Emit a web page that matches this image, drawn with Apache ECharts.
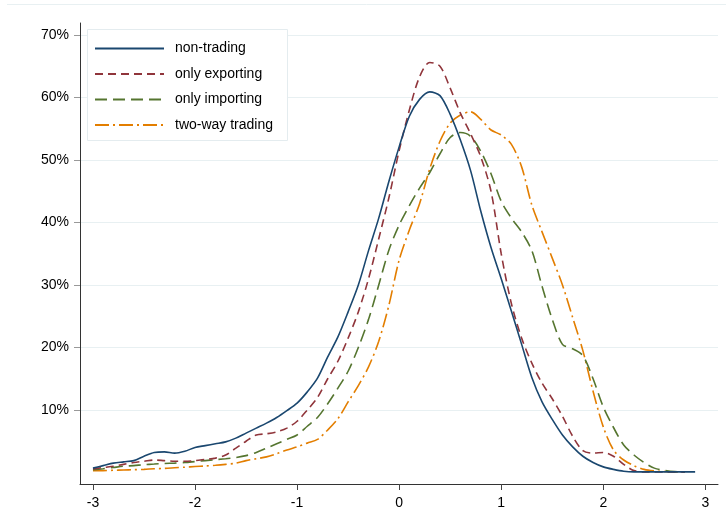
<!DOCTYPE html>
<html>
<head>
<meta charset="utf-8">
<script src="https://cdn.jsdelivr.net/npm/echarts@6/dist/echarts.min.js"></script>
<style>html,body{margin:0;padding:0;background:#fff}#c{width:726px;height:529px}</style>
</head>
<body>
<div id="c"></div>
<script>
var xs = [-3.0,-2.9,-2.8,-2.7,-2.6,-2.5,-2.4,-2.3,-2.2,-2.1,-2.0,-1.9,-1.8,-1.7,-1.6,-1.5,-1.4,-1.3,-1.2,-1.1,-1.0,-0.9,-0.8,-0.7,-0.6,-0.5,-0.4,-0.3,-0.2,-0.1,0.0,0.1,0.2,0.3,0.4,0.5,0.6,0.7,0.8,0.9,1.0,1.1,1.2,1.3,1.4,1.5,1.6,1.7,1.8,1.9,2.0,2.1,2.2,2.3,2.4,2.5,2.6,2.7,2.8,2.9];
var nonTrading = [0.7,1.1,1.5,1.7,1.9,2.6,3.2,3.3,3.1,3.4,4.0,4.3,4.6,4.9,5.5,6.3,7.1,7.9,8.8,9.9,11.1,12.9,15.1,18.5,21.7,25.7,30.0,35.5,40.7,46.6,52.1,57.0,59.7,60.9,60.3,57.3,53.2,48.3,41.8,36.0,31.0,25.8,20.5,15.2,11.3,8.5,6.0,4.1,2.6,1.6,0.9,0.5,0.2,0.1,0.1,0.1,0.1,0.1,0.1,0.1];
var onlyExporting = [0.55,0.8,1.0,1.3,1.6,1.8,2.0,1.9,1.8,1.8,1.9,2.1,2.3,2.8,3.9,5.0,6.0,6.2,6.5,7.1,8.2,10.0,12.0,15.0,17.8,21.5,25.7,31.0,37.4,44.0,51.5,58.0,63.3,65.6,65.0,61.5,57.5,54.2,50.5,45.0,35.0,27.0,21.5,17.5,14.3,11.8,9.0,5.8,3.5,3.1,3.2,2.6,1.3,0.3,0.1,0.1,0.1,0.1,0.1,null];
var onlyImporting = [0.45,0.6,0.8,1.0,1.1,1.25,1.35,1.45,1.5,1.6,1.75,1.9,2.05,2.2,2.4,2.7,3.2,3.9,4.6,5.3,6.0,7.4,8.8,11.0,13.5,16.2,20.0,24.5,30.0,35.6,39.6,42.7,45.5,48.0,51.0,53.6,54.4,53.8,51.4,47.8,43.4,40.7,38.5,35.5,29.8,24.5,20.5,19.8,18.7,15.0,10.5,7.2,4.4,2.8,1.6,0.7,0.35,0.15,0.1,null];
var twoWay = [0.3,0.3,0.35,0.4,0.45,0.5,0.6,0.65,0.75,0.85,0.95,1.05,1.15,1.3,1.5,1.9,2.2,2.5,3.0,3.6,4.1,4.7,5.3,6.8,8.6,11.3,13.9,16.9,21.0,26.8,34.0,38.8,43.0,48.6,53.0,55.9,57.2,57.7,56.5,54.8,54.0,52.5,48.9,42.8,38.5,34.3,30.0,24.8,19.5,13.0,7.3,3.6,2.0,1.1,0.5,0.25,0.15,0.1,0.1,null];
var xTicks = [-3,-2,-1,0,1,2,3];
var yTicks = [10,20,30,40,50,60,70];
var names = ['non-trading','only exporting','only importing','two-way trading'];

function pairs(arr){
  var out=[];
  for(var i=0;i<xs.length;i++){ if(arr[i]!==null) out.push([xs[i],arr[i]]); }
  return out;
}
var FONT = '"Liberation Sans", Arial, sans-serif';
var chart = echarts.init(document.getElementById('c'), null, {renderer:'canvas'});
chart.setOption({
  animation:false,
  backgroundColor:'#ffffff',
  grid:{left:80,right:8,top:23,bottom:45,containLabel:false},
  xAxis:{
    type:'value', min:-3.127, max:3.124,
    axisLine:{show:true,onZero:false,lineStyle:{color:'#333',width:1}},
    axisTick:{show:true,length:6,lineStyle:{color:'#444'},customValues:xTicks},
    axisLabel:{customValues:xTicks,margin:12,color:'#000',fontSize:14,fontFamily:FONT,formatter:function(v){return String(v);}},
    splitLine:{show:false}
  },
  yAxis:{
    type:'value', min:-1.84, max:71.92,
    axisLine:{show:true,onZero:false,lineStyle:{color:'#333',width:1}},
    axisTick:{show:true,length:6,lineStyle:{color:'#999'},customValues:yTicks},
    axisLabel:{customValues:yTicks,margin:11,color:'#000',fontSize:14,fontFamily:FONT,formatter:function(v){return Math.round(v)+'%';}},
    splitLine:{show:true,lineStyle:{color:'#e8f0f2',width:1}}
  },
  graphic:[
    {type:'line',z:1,shape:{x1:7,y1:4.5,x2:726,y2:4.5},style:{stroke:'#e8f0f2',lineWidth:1}},
    {type:'rect',z:10,shape:{x:87.5,y:29.5,width:200,height:111},style:{fill:'#ffffff',stroke:'#e4ecef',lineWidth:1}}
  ],
  legend:{
    z:20, orient:'vertical', left:94, top:41.5, padding:0, itemGap:11.5,
    itemWidth:69, itemHeight:14, selectedMode:false,
    itemStyle:{opacity:0},
    textStyle:{fontSize:14,fontFamily:FONT,color:'#000',padding:[0,0,0,6],lineHeight:14},
    data:names
  },
  series:[
    {name:names[0],type:'line',data:pairs(nonTrading),showSymbol:false,symbol:'none',smooth:0.3,
     lineStyle:{color:'#1a476f',width:1.6,type:'solid'},itemStyle:{color:'#1a476f'},z:5},
    {name:names[1],type:'line',data:pairs(onlyExporting),showSymbol:false,symbol:'none',smooth:0.3,
     lineStyle:{color:'#90353b',width:1.6,type:[8,5]},itemStyle:{color:'#90353b'},z:4},
    {name:names[2],type:'line',data:pairs(onlyImporting),showSymbol:false,symbol:'none',smooth:0.3,
     lineStyle:{color:'#55752f',width:1.6,type:[12,6]},itemStyle:{color:'#55752f'},z:3},
    {name:names[3],type:'line',data:pairs(twoWay),showSymbol:false,symbol:'none',smooth:0.3,
     lineStyle:{color:'#e37e00',width:1.6,type:[14,4,2,4]},itemStyle:{color:'#e37e00'},z:2}
  ]
});
</script>
</body>
</html>
